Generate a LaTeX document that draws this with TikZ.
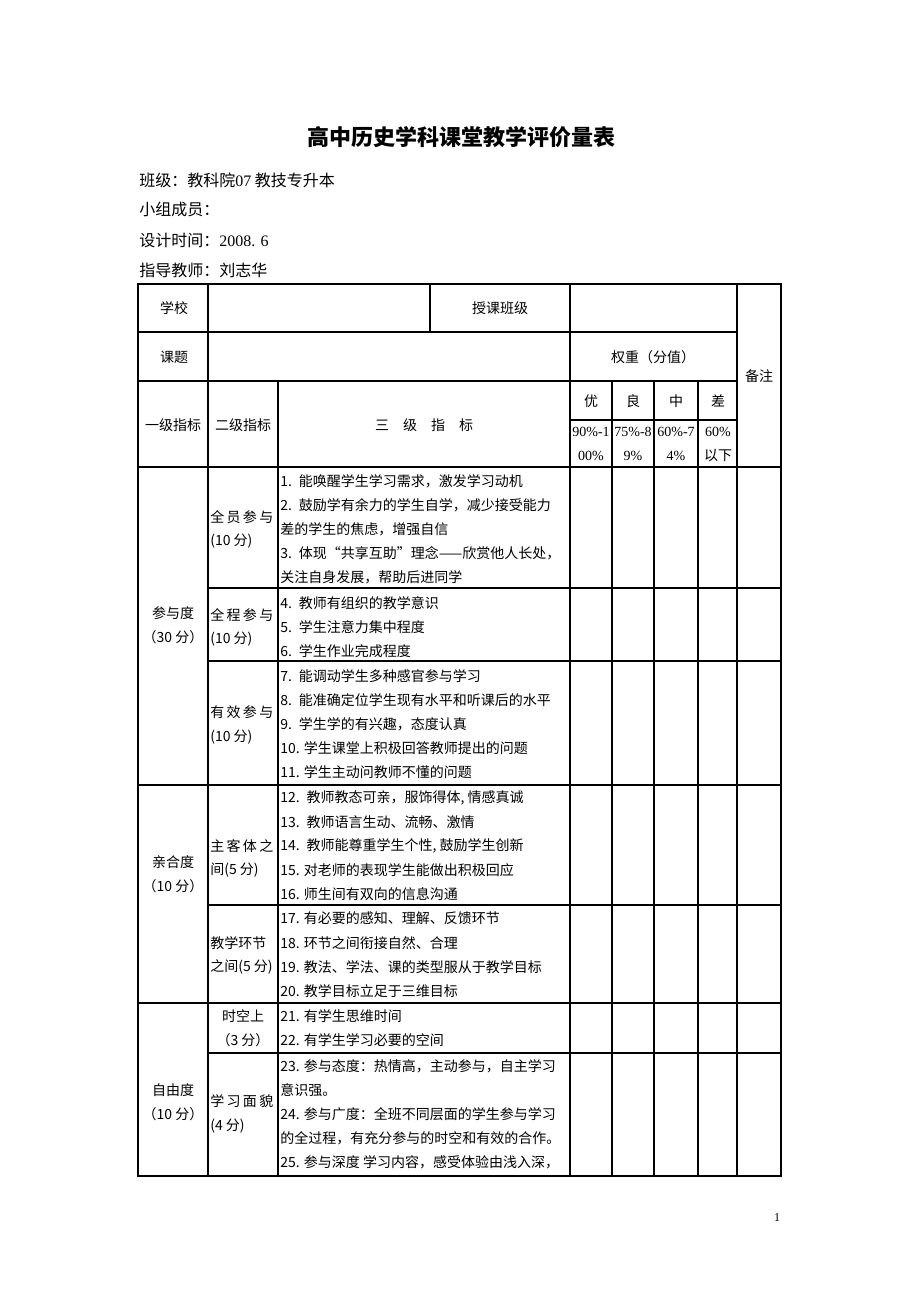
\documentclass[tikz,border=0pt]{standalone}
\usepackage{fontspec}
\setmainfont{Noto Sans CJK SC}
\newfontfamily\numfont{Liberation Serif}
\tikzset{
  grid/.style={line width=0.8pt},
  hd/.style={font=\fontsize{10.5}{12}\selectfont, inner sep=0pt},
  item/.style={hd, anchor=west},
  pct/.style={hd, align=center, font=\fontsize{10.5}{18}\selectfont},
  top/.style={font=\fontsize{12}{14}\selectfont, inner sep=0pt, anchor=west}
}
\begin{document}
\begin{tikzpicture}[x=0.75pt,y=-0.75pt]
    \useasboundingbox (0,0) rectangle (920,1302);
    % title and heading lines
    \node[font=\fontsize{16.5}{18}\selectfont\bfseries, inner sep=0pt] (title) at (461,137) {高中历史学科课堂教学评价量表};
    \node[top] (class) at (139,180) {班级：教科院{\numfont 07} 教技专升本};
    \node[top] (group) at (139,209) {小组成员：};
    \node[top] (date) at (139,240) {设计时间：{\numfont 2008. 6}};
    \node[top] (teacher) at (139,270) {指导教师：刘志华};
    % table frame
    \draw[grid] (138,284) rectangle (781,1176);
    \draw[grid] (138,332) -- (737,332);
    \draw[grid] (138,381) -- (737,381);
    \draw[grid] (570,420) -- (737,420);
    \draw[grid] (138,467) -- (781,467);
    \draw[grid] (208,588) -- (781,588);
    \draw[grid] (208,661) -- (781,661);
    \draw[grid] (138,785) -- (781,785);
    \draw[grid] (208,905) -- (781,905);
    \draw[grid] (138,1003) -- (781,1003);
    \draw[grid] (208,1053) -- (781,1053);
    \draw[grid] (208,284) -- (208,1176);
    \draw[grid] (430,284) -- (430,332);
    \draw[grid] (570,284) -- (570,1176);
    \draw[grid] (737,284) -- (737,1176);
    \draw[grid] (278,381) -- (278,1176);
    \draw[grid] (612,381) -- (612,1176);
    \draw[grid] (654,381) -- (654,1176);
    \draw[grid] (698,381) -- (698,1176);
    % header cells
    \node[hd] (school) at (174,308) {学校};
    \node[hd] (klass) at (500,308) {授课班级};
    \node[hd] (topic) at (174,357) {课题};
    \node[hd] (weight) at (653,357) {权重（分值）};
    \node[hd] (remark) at (759,376) {备注};
    \node[hd] (lv1) at (173,425) {一级指标};
    \node[hd] (lv2) at (243,425) {二级指标};
    \node[hd] (lv3) at (424,425) {三\quad 级\quad 指\quad 标};
    \node[hd] (good) at (591,401) {优};
    \node[hd] (fine) at (633,401) {良};
    \node[hd] (mid) at (676,401) {中};
    \node[hd] (poor) at (718,401) {差};
    \node[pct] (goodp) at (591,444) {\numfont 90\%-1\\\numfont 00\%};
    \node[pct] (finep) at (633,444) {\numfont 75\%-8\\\numfont 9\%};
    \node[pct] (midp) at (676,444) {\numfont 60\%-7\\\numfont 4\%};
    \node[pct] (poorp) at (718,444) {{\numfont 60\%}\\以下};
    % first level
    \node[hd] (joinA) at (173,613) {参与度};
    \node[hd] (joinB) at (173,637) {（30 分）};
    \node[hd] (closeA) at (173,862) {亲合度};
    \node[hd] (closeB) at (173,886) {（10 分）};
    \node[hd] (freeA) at (173,1090) {自由度};
    \node[hd] (freeB) at (173,1114) {（10 分）};
    % second level
    \node[item] (allA) at (210,517) {全\,员\,参\,与};
    \node[item] (allB) at (210,541) {(10 分)};
    \node[item] (wholeA) at (210,615) {全\,程\,参\,与};
    \node[item] (wholeB) at (210,639) {(10 分)};
    \node[item] (effA) at (210,712) {有\,效\,参\,与};
    \node[item] (effB) at (210,737) {(10 分)};
    \node[item] (subA) at (210,846) {主\,客\,体\,之};
    \node[item] (subB) at (210,870) {间(5 分)};
    \node[item] (stepA) at (210,943) {教学环节};
    \node[item] (stepB) at (210,967) {之间(5 分)};
    \node[hd] (timeA) at (243,1016) {时空上};
    \node[hd] (timeB) at (243,1040) {（3 分）};
    \node[item] (lookA) at (210,1101) {学\,习\,面\,貌};
    \node[item] (lookB) at (210,1126) {(4 分)};
    % third level
    \node[item] (i1) at (280,481) {1.\enspace 能唤醒学生学习需求，激发学习动机};
    \node[item] (i2) at (280,505) {2.\enspace 鼓励学有余力的学生自学，减少接受能力};
    \node[item] (i2b) at (280,529) {差的学生的焦虑，增强自信};
    \node[item] (i3) at (280,553) {3.\enspace 体现“共享互助”理念——欣赏他人长处，};
    \node[item] (i3b) at (280,577) {关注自身发展，帮助后进同学};
    \node[item] (i4) at (280,603) {4.\enspace 教师有组织的教学意识};
    \node[item] (i5) at (280,627) {5.\enspace 学生注意力集中程度};
    \node[item] (i6) at (280,651) {6.\enspace 学生作业完成程度};
    \node[item] (i7) at (280,676) {7.\enspace 能调动学生多种感官参与学习};
    \node[item] (i8) at (280,700) {8.\enspace 能准确定位学生现有水平和听课后的水平};
    \node[item] (i9) at (280,724) {9.\enspace 学生学的有兴趣，态度认真};
    \node[item] (i10) at (280,748) {10. 学生课堂上积极回答教师提出的问题};
    \node[item] (i11) at (280,772) {11. 学生主动问教师不懂的问题};
    \node[item] (i12) at (280,798) {12.\enspace 教师教态可亲，服饰得体, 情感真诚};
    \node[item] (i13) at (280,822) {13.\enspace 教师语言生动、流畅、激情};
    \node[item] (i14) at (280,846) {14.\enspace 教师能尊重学生个性, 鼓励学生创新};
    \node[item] (i15) at (280,870) {15. 对老师的表现学生能做出积极回应};
    \node[item] (i16) at (280,894) {16. 师生间有双向的信息沟通};
    \node[item] (i17) at (280,918) {17. 有必要的感知、理解、反馈环节};
    \node[item] (i18) at (280,943) {18. 环节之间衔接自然、合理};
    \node[item] (i19) at (280,967) {19. 教法、学法、课的类型服从于教学目标};
    \node[item] (i20) at (280,991) {20. 教学目标立足于三维目标};
    \node[item] (i21) at (280,1016) {21. 有学生思维时间};
    \node[item] (i22) at (280,1040) {22. 有学生学习必要的空间};
    \node[item] (i23) at (280,1066) {23. 参与态度：热情高，主动参与，自主学习};
    \node[item] (i23b) at (280,1090) {意识强。};
    \node[item] (i24) at (280,1114) {24. 参与广度：全班不同层面的学生参与学习};
    \node[item] (i24b) at (280,1138) {的全过程，有充分参与的时空和有效的合作。};
    \node[item] (i25) at (280,1162) {25. 参与深度 学习内容，感受体验由浅入深，};
    % page number
    \node[font=\fontsize{9}{10}\selectfont\numfont, inner sep=0pt] (page) at (777,1218) {1};
\end{tikzpicture}
\end{document}
